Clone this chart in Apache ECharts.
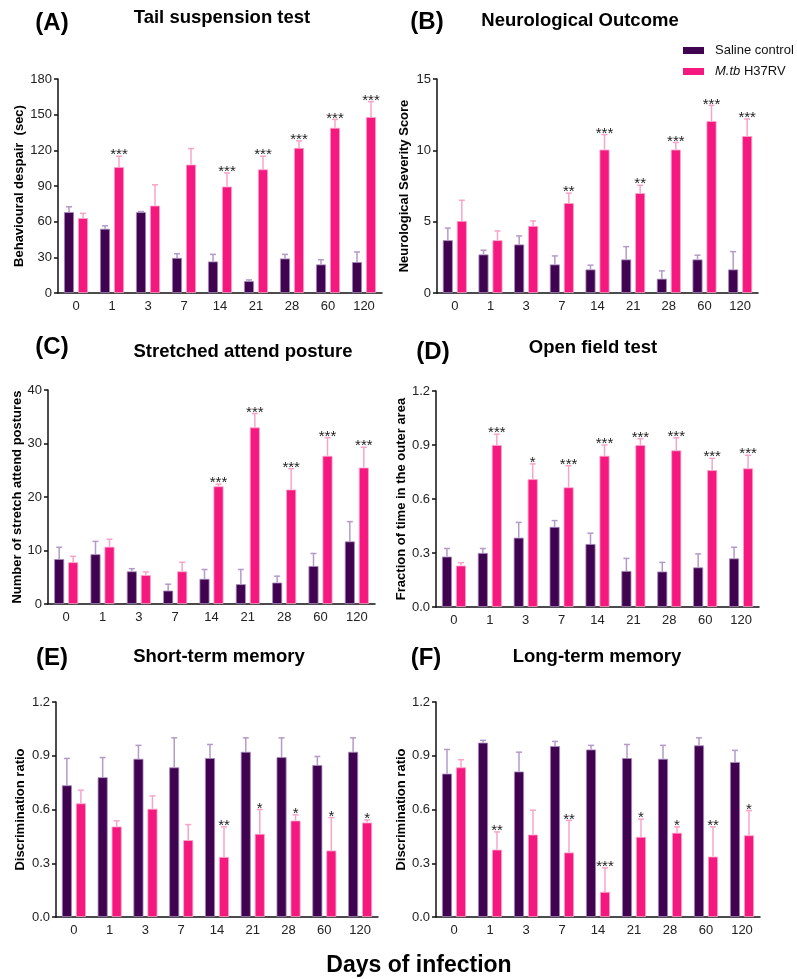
<!DOCTYPE html>
<html>
<head>
<meta charset="utf-8">
<script src="https://cdn.jsdelivr.net/npm/echarts@6/dist/echarts.min.js"></script>
<style>
html,body{margin:0;padding:0;background:#fff;}
#chart{width:797px;height:979px;}
</style>
</head>
<body>
<div id="chart"></div>
<script>
// ---- Data ----
const days = ['0','1','3','7','14','21','28','60','120'];

// (A) Tail suspension test
const tstSaline    = [68, 54, 68, 29.5, 26.5, 10, 29, 24, 26];
const tstSalineErr = [72.5, 56.5, 68.5, 33, 32.5, 11, 32.5, 28, 34.5];
const tstMtb       = [63, 106, 73.5, 108, 89.5, 104, 122, 139, 148];
const tstMtbErr    = [67, 115, 91, 121.5, 101, 115, 128, 146, 161];
const tstSig       = ['', '***', '', '', '***', '***', '***', '***', '***'];

// (B) Neurological outcome
const neuroSaline    = [3.7, 2.7, 3.4, 2.0, 1.65, 2.35, 1.0, 2.35, 1.65];
const neuroSalineErr = [4.55, 3.0, 4.0, 2.6, 1.95, 3.25, 1.55, 2.65, 2.9];
const neuroMtb       = [5.05, 3.7, 4.7, 6.3, 10.05, 7.0, 10.05, 12.05, 11.0];
const neuroMtbErr    = [6.5, 4.35, 5.05, 7.0, 11.1, 7.55, 10.55, 13.15, 12.2];
const neuroSig       = ['', '', '', '**', '***', '**', '***', '***', '***'];

// (C) Stretched attend posture
const sapSaline    = [8.4, 9.3, 6.1, 2.5, 4.7, 3.7, 4.0, 7.1, 11.7];
const sapSalineErr = [10.6, 11.7, 6.6, 3.7, 6.45, 6.45, 5.2, 9.45, 15.4];
const sapMtb       = [7.8, 10.7, 5.4, 6.1, 22.0, 33.0, 21.4, 27.7, 25.5];
const sapMtbErr    = [8.9, 12.1, 6.0, 7.8, 22.4, 35.6, 25.3, 31.1, 29.3];
const sapSig       = ['', '', '', '', '***', '***', '***', '***', '***'];

// (D) Open field test
const oftSaline    = [0.28, 0.30, 0.385, 0.445, 0.35, 0.20, 0.197, 0.22, 0.27];
const oftSalineErr = [0.325, 0.325, 0.47, 0.48, 0.41, 0.27, 0.248, 0.295, 0.332];
const oftMtb       = [0.23, 0.90, 0.71, 0.665, 0.84, 0.90, 0.87, 0.76, 0.77];
const oftMtbErr    = [0.246, 0.96, 0.795, 0.785, 0.90, 0.935, 0.94, 0.826, 0.843];
const oftSig       = ['', '***', '*', '***', '***', '***', '***', '***', '***'];

// (E) Short-term memory
const stmSaline    = [0.735, 0.78, 0.883, 0.835, 0.887, 0.922, 0.892, 0.848, 0.922];
const stmSalineErr = [0.885, 0.89, 0.958, 1.0, 0.963, 1.0, 1.0, 0.896, 1.0];
const stmMtb       = [0.634, 0.505, 0.604, 0.429, 0.335, 0.464, 0.538, 0.371, 0.527];
const stmMtbErr    = [0.708, 0.537, 0.676, 0.516, 0.503, 0.60, 0.57, 0.555, 0.542];
const stmSig       = ['', '', '', '', '**', '*', '*', '*', '*'];

// (F) Long-term memory
const ltmSaline    = [0.80, 0.973, 0.812, 0.954, 0.935, 0.887, 0.883, 0.958, 0.865];
const ltmSalineErr = [0.935, 0.986, 0.92, 0.98, 0.958, 0.963, 0.958, 1.0, 0.93];
const ltmMtb       = [0.835, 0.376, 0.46, 0.36, 0.14, 0.447, 0.47, 0.337, 0.456];
const ltmMtbErr    = [0.878, 0.475, 0.596, 0.539, 0.274, 0.546, 0.503, 0.503, 0.594];
const ltmSig       = ['', '**', '', '**', '***', '*', '*', '**', '*'];

// ---- Styling ----
const FONT = "'Liberation Sans', Arial, sans-serif";
const C_SAL = '#40034f';
const C_MTB = '#f5187f';
const C_SAL_ERR = '#b49ac8';
const C_MTB_ERR = '#f7a4c9';
const BAR_W = 10, OFF = 7;

const panels = [
  {grid:{left:58, top:79, width:324, height:214}, max:180, interval:30, dec:0,
   yName:'Behavioural despair  (sec)', nameGap:31,
   s:tstSaline, se:tstSalineErr, m:tstMtb, me:tstMtbErr, sig:tstSig},
  {grid:{left:437, top:79, width:321, height:214}, max:15, interval:5, dec:0,
   yName:'Neurological Severity Score', nameGap:26,
   s:neuroSaline, se:neuroSalineErr, m:neuroMtb, me:neuroMtbErr, sig:neuroSig},
  {grid:{left:48, top:390, width:327, height:214}, max:40, interval:10, dec:0,
   yName:'Number of stretch attend postures', nameGap:21,
   s:sapSaline, se:sapSalineErr, m:sapMtb, me:sapMtbErr, sig:sapSig},
  {grid:{left:436, top:391, width:323, height:216}, max:1.2, interval:0.3, dec:1,
   yName:'Fraction of time in the outer area', nameGap:25,
   s:oftSaline, se:oftSalineErr, m:oftMtb, me:oftMtbErr, sig:oftSig},
  {grid:{left:56, top:702, width:322, height:215}, max:1.2, interval:0.3, dec:1,
   yName:'Discrimination ratio', nameGap:29,
   s:stmSaline, se:stmSalineErr, m:stmMtb, me:stmMtbErr, sig:stmSig},
  {grid:{left:436, top:702, width:324, height:215}, max:1.2, interval:0.3, dec:1,
   yName:'Discrimination ratio', nameGap:25,
   s:ltmSaline, se:ltmSalineErr, m:ltmMtb, me:ltmMtbErr, sig:ltmSig}
];

const grids = [], xAxes = [], yAxes = [], series = [];

function errSeries(i, means, errs, off, color, sig) {
  return {
    type:'custom', name:'err'+i+(sig?'m':'s'), xAxisIndex:i, yAxisIndex:i, z:5,
    silent:true,
    data: days.map((d, k) => [k, means[k], errs[k]]),
    encode:{x:0, y:[1,2]},
    renderItem: function(params, api) {
      const k = api.value(0);
      const top = api.coord([k, api.value(2)]);
      const base = api.coord([k, api.value(1)]);
      const x = top[0] + off;
      const children = [
        {type:'line', shape:{x1:x, y1:base[1], x2:x, y2:top[1]},
         style:{stroke:color, lineWidth:1.5}},
        {type:'line', shape:{x1:x-3, y1:top[1], x2:x+3, y2:top[1]},
         style:{stroke:color, lineWidth:1.5}}
      ];
      if (sig && sig[k]) {
        children.push({type:'text', style:{text:sig[k], x:x, y:top[1]-1,
          font:'15px ' + FONT, fill:'#222', align:'center', verticalAlign:'middle',
          textAlign:'center', textVerticalAlign:'middle'}});
      }
      return {type:'group', children:children};
    }
  };
}

panels.forEach((p, i) => {
  grids.push(Object.assign({containLabel:false}, p.grid));
  xAxes.push({
    type:'category', gridIndex:i, data:days,
    axisLine:{lineStyle:{color:'#111', width:1.5}},
    axisTick:{alignWithLabel:true, length:4, lineStyle:{color:'#111', width:1.5}},
    axisLabel:{color:'#222', fontSize:13, fontFamily:FONT, margin:7}
  });
  yAxes.push({
    type:'value', gridIndex:i, min:0, max:p.max, interval:p.interval,
    name:p.yName, nameLocation:'middle', nameGap:p.nameGap, nameRotate:90,
    nameTextStyle:{fontFamily:FONT, fontSize:13, fontWeight:'bold', color:'#000'},
    axisLine:{show:true, lineStyle:{color:'#111', width:1.5}},
    axisTick:{show:true, length:4, lineStyle:{color:'#111', width:1.5}},
    splitLine:{show:false},
    axisLabel:{color:'#222', fontSize:13, fontFamily:FONT, margin:6,
      formatter: v => p.dec ? v.toFixed(p.dec) : String(v)}
  });
  series.push({
    type:'bar', name:'Saline control', xAxisIndex:i, yAxisIndex:i, data:p.s,
    barWidth:BAR_W, barGap:'40%',
    itemStyle:{color:C_SAL, borderColor:'#a68abb', borderWidth:0.8}
  });
  series.push({
    type:'bar', name:'M.tb H37RV', xAxisIndex:i, yAxisIndex:i, data:p.m,
    barWidth:BAR_W, barGap:'40%',
    itemStyle:{color:C_MTB, borderColor:'#f9a6cb', borderWidth:0.8}
  });
  series.push(errSeries(i, p.s, p.se, -OFF, C_SAL_ERR, null));
  series.push(errSeries(i, p.m, p.me, OFF, C_MTB_ERR, p.sig));
});

function txt(text, x, y, size) {
  return {type:'text', style:{text:text, x:x, y:y, font:'bold ' + size + 'px ' + FONT,
    fill:'#000', align:'center', verticalAlign:'middle', textAlign:'center', textVerticalAlign:'middle'}};
}

const graphics = [
  txt('(A)', 52, 23, 24), txt('Tail suspension test', 222, 18, 18.5),
  txt('(B)', 427, 22, 24), txt('Neurological Outcome', 580, 21, 18.5),
  txt('(C)', 52, 347, 24), txt('Stretched attend posture', 243, 352, 18.5),
  txt('(D)', 433, 352, 24), txt('Open field test', 593, 348, 18.5),
  txt('(E)', 52, 658, 24), txt('Short-term memory', 219, 657, 18.5),
  txt('(F)', 426, 658, 24), txt('Long-term memory', 597, 657, 18.5),
  txt('Days of infection', 419, 966, 23)
];

const chart = echarts.init(document.getElementById('chart'), null, {renderer:'canvas'});
chart.setOption({
  animation:false,
  backgroundColor:'#fff',
  textStyle:{fontFamily:FONT},
  grid:grids, xAxis:xAxes, yAxis:yAxes, series:series,
  legend:{
    data:['Saline control','M.tb H37RV'], orient:'vertical', left:683, top:44,
    padding:0, itemWidth:21, itemHeight:7, itemGap:8, icon:'rect',
    itemStyle:{borderWidth:0},
    textStyle:{fontFamily:FONT, fontSize:13, color:'#111',
      rich:{i:{fontStyle:'italic', fontFamily:FONT, fontSize:13, color:'#111', padding:[0,0,0,6]},
            n:{fontFamily:FONT, fontSize:13, color:'#111'},
            f:{fontFamily:FONT, fontSize:13, color:'#111', padding:[0,0,0,6]}}},
    formatter: n => n === 'M.tb H37RV' ? '{i|M.tb}{n| H37RV}' : '{f|' + n + '}'
  },
  graphic:graphics
});
</script>
</body>
</html>
